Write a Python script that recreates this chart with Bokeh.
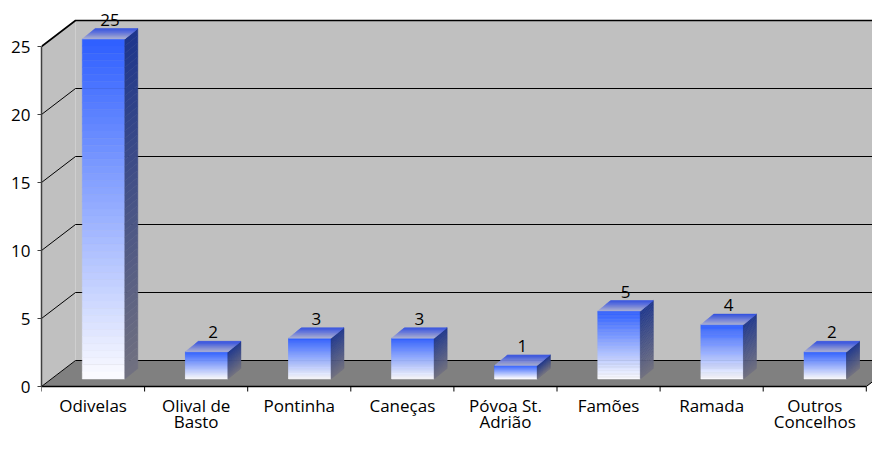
from bokeh.plotting import figure
from bokeh.models import Range1d, FixedTicker
from bokeh.core.properties import value
from bokeh.embed import file_html
from bokeh.resources import INLINE

# ---- data ----
categories = ["Odivelas", "Olival de\nBasto", "Pontinha", "Caneças",
              "Póvoa St.\nAdrião", "Famões", "Ramada", "Outros\nConcelhos"]
values = [25, 2, 3, 3, 1, 5, 4, 2]
y_ticks = [0, 5, 10, 15, 20, 25]

FONT = "Open Sans"
W, H = 872, 433
LEFT = 41          # frame left (px)
BASE = 386         # pixel row of value 0 on the front plane
PX_U = 103.1       # pixels per category
PX_V = 13.6        # pixels per value unit
FRAME_W = W - LEFT

# projection offsets (data units)
DX = 34 / PX_U
DY = 26 / PX_V
BAR_W = 42.5 / PX_U
BAR_SHIFT = 10.5 / PX_U
BAR_BASE = 7.5 / PX_V
TOP_DX = 13 / PX_U
TOP_DY = 10.5 / PX_V
N_CAT = len(categories)
YMAX = y_ticks[-1]

p = figure(width=W, height=H, output_backend="svg", toolbar_location=None,
           x_range=Range1d(0, FRAME_W / PX_U),
           y_range=Range1d((BASE - H) / PX_V, BASE / PX_V),
           min_border_left=LEFT, min_border_right=0, min_border_top=0, min_border_bottom=0)
p.outline_line_color = None
p.xgrid.visible = False
p.ygrid.visible = False
p.xaxis.visible = False
p.background_fill_color = "white"
p.border_fill_color = "white"

XR = 8.8
# floor
p.patch([0, N_CAT, N_CAT + DX, DX], [0, 0, DY, DY], fill_color="#808080", line_color=None)
p.line([N_CAT, N_CAT + DX], [0, DY], line_color="black", line_width=1)
# back wall
p.patch([DX, DX, XR, XR], [DY, YMAX + DY, YMAX + DY, DY], fill_color="#C0C0C0", line_color=None)
# side wall
p.patch([0, 0, DX, DX], [0, YMAX, YMAX + DY, DY], fill_color="#C0C0C0", line_color=None)
# gridlines
gx, gy, gw = [], [], []
for t in y_ticks:
    gx.append([0, DX, XR])
    gy.append([t, t + DY, t + DY])
    gw.append(1.6 if t == YMAX else 1.0)
p.multi_line(xs=gx, ys=gy, line_color="black", line_width=gw)


def lerp(c1, c2, t):
    return "#%02x%02x%02x" % tuple(int(round(a + (b - a) * t)) for a, b in zip(c1, c2))


FRONT_TOP, FRONT_BOT = (48, 96, 255), (250, 250, 255)
SIDE_TOP, SIDE_BOT = (30, 54, 140), (112, 112, 128)
TOPF_FRONT, TOPF_BACK = (170, 174, 210), (56, 84, 224)
N = 48

fx, fy, fc = [], [], []
for i, v in enumerate(values):
    x0 = i + 0.5 + BAR_SHIFT - BAR_W / 2
    x1 = x0 + BAR_W
    b = BAR_BASE
    t = BAR_BASE + v
    for k in range(N):  # front face
        ya = t - (t - b) * k / N
        yb = t - (t - b) * (k + 1) / N
        fx.append([x0, x1, x1, x0]); fy.append([ya, ya, yb, yb])
        fc.append(lerp(FRONT_TOP, FRONT_BOT, k / (N - 1)))
    for k in range(N):  # side face
        ya = t - (t - b) * k / N
        yb = t - (t - b) * (k + 1) / N
        fx.append([x1, x1 + TOP_DX, x1 + TOP_DX, x1])
        fy.append([ya, ya + TOP_DY, yb + TOP_DY, yb])
        fc.append(lerp(SIDE_TOP, SIDE_BOT, k / (N - 1)))
    M = 12
    for k in range(M):  # top face
        fa, fb = k / M, (k + 1) / M
        fx.append([x0 + TOP_DX * fa, x1 + TOP_DX * fa, x1 + TOP_DX * fb, x0 + TOP_DX * fb])
        fy.append([t + TOP_DY * fa, t + TOP_DY * fa, t + TOP_DY * fb, t + TOP_DY * fb])
        fc.append(lerp(TOPF_FRONT, TOPF_BACK, k / (M - 1)))

p.patches(xs=fx, ys=fy, fill_color=fc, line_color=fc, line_width=0.5)

# y axis (Bokeh axis on the front plane)
p.yaxis.ticker = FixedTicker(ticks=y_ticks, minor_ticks=[])
p.yaxis.bounds = (0, YMAX)
p.yaxis.axis_line_color = "#404040"
p.yaxis.axis_line_width = 1.5
p.yaxis.major_tick_out = 4
p.yaxis.major_tick_in = 0
p.yaxis.major_tick_line_color = "#404040"
p.yaxis.major_label_standoff = 7
p.yaxis.major_label_text_font = FONT
p.yaxis.major_label_text_font_size = "17px"
p.yaxis.major_label_text_color = "black"

# x axis line and category boundary ticks on the front edge of the floor
p.line([0, N_CAT], [0, 0], line_color="black", line_width=1.3)
bx = list(range(N_CAT + 1))
p.segment(x0=bx, y0=[0] * len(bx), x1=bx, y1=[-5 / PX_V] * len(bx),
          line_color="black", line_width=1)

# category labels (two lines)
l1 = [c.split("\n")[0] for c in categories]
l2 = [c.split("\n")[1] if "\n" in c else "" for c in categories]
cx = [i + 0.5 for i in range(N_CAT)]
p.text(x=cx, y=[(BASE - 405) / PX_V] * N_CAT, text=l1, text_align="center",
       text_baseline="middle", text_font=value(FONT), text_font_size="17px",
       text_color="black")
p.text(x=cx, y=[(BASE - 420.5) / PX_V] * N_CAT, text=l2, text_align="center",
       text_baseline="middle", text_font=value(FONT), text_font_size="17px",
       text_color="black")

# value labels
p.text(x=[i + 0.5 + BAR_SHIFT + TOP_DX / 2 for i in range(N_CAT)],
       y=[BAR_BASE + v + TOP_DY + 9 / PX_V for v in values],
       text=[str(v) for v in values], text_align="center", text_baseline="middle",
       text_font=value(FONT), text_font_size="17px", text_color="black")

open("out.html", "w").write(file_html(p, INLINE))
